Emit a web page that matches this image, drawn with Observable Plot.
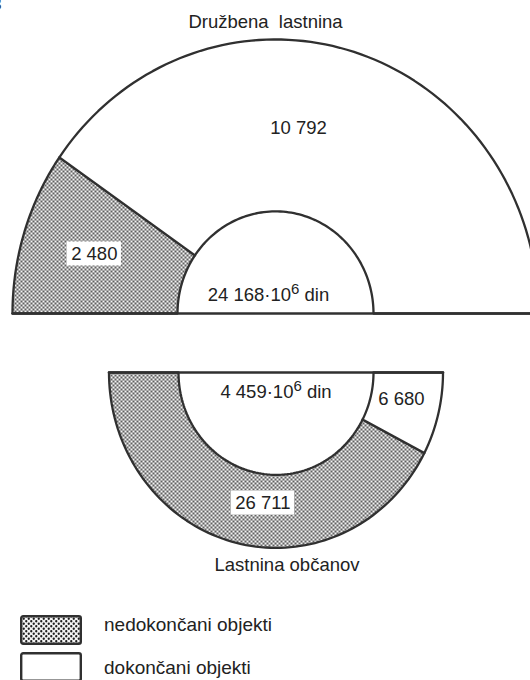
<!DOCTYPE html>
<html>
<head>
<meta charset="utf-8">
<script src="https://cdn.jsdelivr.net/npm/d3@7"></script>
<script src="https://cdn.jsdelivr.net/npm/@observablehq/plot@0.6"></script>
<style>
  html, body { margin: 0; padding: 0; background: #fff; }
  #wrap { position: relative; width: 530px; height: 680px; overflow: hidden;
          font-family: "Liberation Sans", Arial, sans-serif; color: #222; }
  #chart { position: absolute; left: 0; top: 0; }
  #fignum { position: absolute; left: -8px; top: -5px; font-size: 17px; font-weight: bold; color: #333; }
  .sw { position: absolute; left: 20px; }
  .lt { position: absolute; left: 104px; font-size: 19px; color: #222; line-height: 20px; }
</style>
</head>
<body>
<div id="wrap">
  <div id="chart"></div>
  <div id="fignum">3</div>
  <div id="legend"></div>
</div>
<script>
// ---------------- data ----------------
const groups = ["Družbena lastnina", "Lastnina občanov"];
const categories = ["nedokončani objekti", "dokončani objekti"];
// number of objects per category [nedokončani, dokončani]
const countsDruzbena = [2480, 10792];
const countsObcanov = [26711, 6680];
// total value, in 10^6 din
const totalValues = [24168, 4459];
// angular share of each slice [nedokončani, dokončani]
const sharesDruzbena = [0.193, 0.807];
const sharesObcanov = [0.848, 0.152];

// ---------------- layout ----------------
const W = 530, H = 592;
const gTop = {cx: 275, cy: 313, r0: 98, r1: 263, ky: 1.042, start: 180, dir: -1};
const gBot = {cx: 275.5, cy: 372, r0: 97.5, r1: 167, ky: 1.05, start: 180, dir: 1};
const fills = ["url(#dots)", "white"];
const INK = "#303030";
const FS = 18.5;
const font = "Liberation Sans, Arial, sans-serif";

const fmt = n => String(n).replace(/\B(?=(\d{3})+(?!\d))/g, " ");

const ctx = document.createElement("canvas").getContext("2d");
ctx.font = `${FS}px "Liberation Sans", Arial, sans-serif`;
const textWidth = s => ctx.measureText(s).width;

function sectorPoints(g, a0, a1, key) {
  const pts = [];
  const n = 90;
  const P = (r, a) => ({x: g.cx + r * Math.cos(a * Math.PI / 180),
                        y: g.cy - r * Math.sin(a * Math.PI / 180) * g.ky, key});
  for (let i = 0; i <= n; i++) pts.push(P(g.r1, a0 + (a1 - a0) * i / n));
  for (let i = n; i >= 0; i--) pts.push(P(g.r0, a0 + (a1 - a0) * i / n));
  pts.push(pts[0]);
  return pts;
}

function slices(g, shares, name) {
  let a = g.start;
  return shares.map((s, i) => {
    const a1 = a + g.dir * 180 * s;
    const pts = sectorPoints(g, a, a1, name + i);
    a = a1;
    return {cat: i, pts};
  });
}

const topSlices = slices(gTop, sharesDruzbena, "t");
const botSlices = slices(gBot, sharesObcanov, "b");
const allSlices = [...topSlices, ...botSlices];

const polar = (g, r, a) => ({x: g.cx + r * Math.cos(a * Math.PI / 180),
                             y: g.cy - r * Math.sin(a * Math.PI / 180) * g.ky});

// label placements (polar offsets from each centre)
const labels = [
  {...polar(gTop, 190, 162.5), text: fmt(countsDruzbena[0]), box: true},
  {...polar(gTop, 179, 82.6), text: fmt(countsDruzbena[1]), box: false},
  {...polar(gBot, 125, 264), text: fmt(countsObcanov[0]), box: true},
  {...polar(gBot, 128, -11.5), text: fmt(countsObcanov[1]), box: false}
];
const boxes = labels.filter(d => d.box).map(d => {
  const w = textWidth(d.text);
  return {x1: d.x - w / 2 - 4, x2: d.x + w / 2 + 4, y1: d.y - 12, y2: d.y + 12};
});
const totals = [
  {x: gTop.cx - 7, y: gTop.cy - 18, text: `${fmt(totalValues[0])}·10^6^ din`},
  {x: gBot.cx, y: gBot.cy + 20, text: `${fmt(totalValues[1])}·10^6^ din`}
];
const titles = [
  {x: gTop.cx - 10, y: 22, text: groups[0].replace(" ", "  ")},
  {x: gBot.cx + 11, y: 565, text: groups[1]}
];

const baselines = [
  {x: gTop.cx - gTop.r1, y: gTop.cy, k: "t"}, {x: gTop.cx + gTop.r1, y: gTop.cy, k: "t"},
  {x: gBot.cx - gBot.r1, y: gBot.cy, k: "b"}, {x: gBot.cx + gBot.r1, y: gBot.cy, k: "b"}
];

const chart = Plot.plot({
  width: W, height: H, margin: 0,
  x: {type: "identity", axis: null},
  y: {type: "identity", axis: null},
  style: {background: "white", fontFamily: font},
  marks: [
    ...[0, 1].map(c => Plot.line(allSlices.filter(s => s.cat === c).flatMap(s => s.pts), {
      x: "x", y: "y", z: "key", fill: fills[c], stroke: INK, strokeWidth: 2.3,
      strokeLinejoin: "round", curve: "linear"
    })),
    Plot.line(baselines, {x: "x", y: "y", z: "k", stroke: INK, strokeWidth: 2.6}),
    Plot.rect(boxes, {x1: "x1", x2: "x2", y1: "y1", y2: "y2", fill: "white"}),
    Plot.text(labels, {x: "x", y: "y", text: "text", fontSize: FS, fill: "#222", fontFamily: font}),
    Plot.text(totals, {x: "x", y: "y", text: "text", fontSize: FS, fill: "#222",
      className: "sup", fontFamily: font}),
    Plot.text(titles, {x: "x", y: "y", text: "text", fontSize: FS, fill: "#222", fontFamily: font})
  ]
});
document.getElementById("chart").appendChild(chart);

// dotted pattern
const svg = d3.select(chart);
const defs = svg.insert("defs", ":first-child");
function dots(id, s, r) {
  const p = defs.append("pattern").attr("id", id).attr("width", s).attr("height", s)
    .attr("patternUnits", "userSpaceOnUse");
  p.append("rect").attr("width", s).attr("height", s).attr("fill", "#f4f4f4");
  p.append("circle").attr("cx", s / 4).attr("cy", s / 4).attr("r", r).attr("fill", "#1e1e1e");
  p.append("circle").attr("cx", 3 * s / 4).attr("cy", 3 * s / 4).attr("r", r).attr("fill", "#1e1e1e");
}
dots("dots", 4, 0.92);
dots("dotsL", 5, 1.15);

// superscripts
svg.selectAll("g.sup text").each(function () {
  const parts = this.textContent.split("^");
  const t = d3.select(this);
  t.text("");
  t.append("tspan").text(parts[0]);
  t.append("tspan").attr("dy", -7).attr("font-size", 15).text(parts[1]);
  t.append("tspan").attr("dy", 7).text(parts[2]);
});

// legend
const leg = d3.select("#legend");
const swTop = [615, 652], txtTop = [615, 658];
categories.forEach((c, i) => {
  const s = leg.append("svg").attr("class", "sw").style("top", swTop[i] + "px")
    .attr("width", 62).attr("height", 30);
  s.append("rect").attr("x", 1.2).attr("y", 1.2).attr("width", 59.6).attr("height", 27.6)
    .attr("rx", 2).attr("fill", i === 0 ? "url(#dotsL)" : "white")
    .attr("stroke", INK).attr("stroke-width", 2.4);
  leg.append("div").attr("class", "lt").style("top", txtTop[i] + "px").text(c);
});
</script>
</body>
</html>
